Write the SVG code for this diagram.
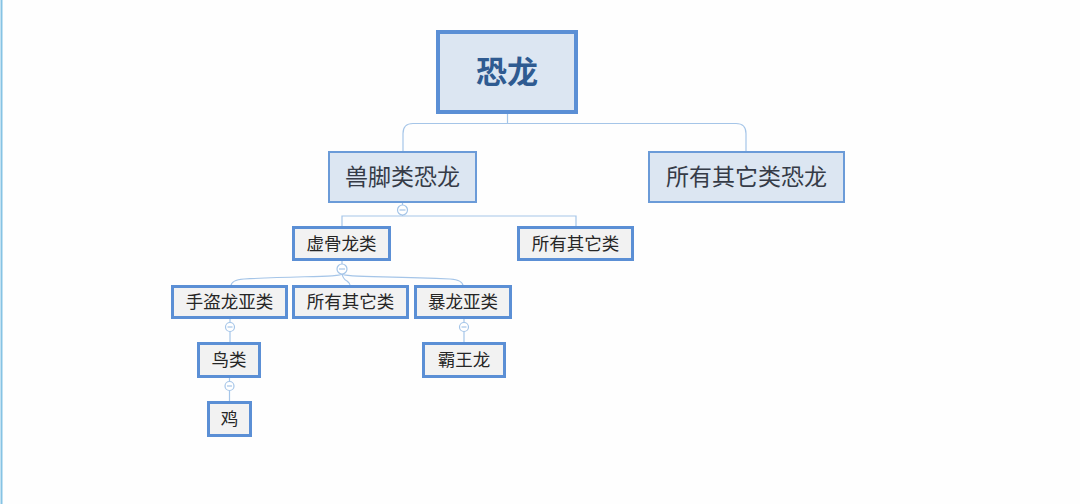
<svg xmlns="http://www.w3.org/2000/svg" width="1080" height="504" viewBox="0 0 1080 504">
<style>
.bg{fill:#fefefe}
.root{fill:#dce6f2;stroke:#5b8fd5;stroke-width:4}
.l1{fill:#dce6f2;stroke:#6b9bd8;stroke-width:2}
.nd{fill:#f2f2f2;stroke:#5b8fd5;stroke-width:3}
.t{font-family:"Noto Sans CJK SC","Liberation Sans",sans-serif;text-anchor:middle}
.tr{font-size:31px;font-weight:bold;fill:#2f5b91}
.t1{font-size:23px;fill:#353b47}
.t2{font-size:17.5px;fill:#262626}
.c{fill:none;stroke:#a5c5e8;stroke-width:1.2}
.cc{fill:#ffffff;stroke:#a5c5e8;stroke-width:1.2}
.mn{stroke:#a5c5e8;stroke-width:1.2}
</style>
<rect class="bg" x="0" y="0" width="1080" height="504"/>
<line x1="1.5" y1="0" x2="1.5" y2="504" stroke="#86c3e4" stroke-width="2"/>
<g id="connectors">
<path class="c" d="M507.5,114 V123.5"/>
<path class="c" d="M403,151 V133.5 Q403,123.5 413,123.5 H736 Q746,123.5 746,133.5 V151"/>
<path class="c" d="M402.5,203 V205 M402.5,215 V216"/>
<path class="c" d="M342,226 V216 H576 V226"/>
<path class="c" d="M342,261 V264"/>
<path class="c" d="M342,274 C342,277 300,276 244,279 Q231,280 231,286"/>
<path class="c" d="M342,274 C342,277 384,276 450,279 Q463,280 463,286"/>
<path class="c" d="M342,274 Q343,279 347,281 Q350,283 350,286"/>
<path class="c" d="M230,319 V322.5 M230,331.5 V342"/>
<path class="c" d="M464,319 V322.5 M464,331.5 V342"/>
<path class="c" d="M229.5,378 V381.5 M229.5,390.5 V401"/>
<g id="collapse">
<circle class="cc" cx="402.5" cy="210" r="5"/><line class="mn" x1="399.5" y1="210" x2="405.5" y2="210"/>
<circle class="cc" cx="342" cy="269" r="5"/><line class="mn" x1="339" y1="269" x2="345" y2="269"/>
<circle class="cc" cx="230" cy="327" r="4.5"/><line class="mn" x1="227.5" y1="327" x2="232.5" y2="327"/>
<circle class="cc" cx="464" cy="327" r="4.5"/><line class="mn" x1="461.5" y1="327" x2="466.5" y2="327"/>
<circle class="cc" cx="229.5" cy="386" r="4.5"/><line class="mn" x1="227" y1="386" x2="232" y2="386"/>
</g>
</g>
<g id="n-root"><rect class="root" x="438" y="32" width="138" height="80"/><text class="t tr" x="507" y="83">恐龙</text></g>
<g id="n-theropod"><rect class="l1" x="329" y="152" width="147" height="50"/><text class="t t1" x="402.5" y="185">兽脚类恐龙</text></g>
<g id="n-other1"><rect class="l1" x="649" y="152" width="195" height="50"/><text class="t t1" x="746.5" y="185">所有其它类恐龙</text></g>
<g id="n-coelurosaur"><rect class="nd" x="293.5" y="227.5" width="96" height="32"/><text class="t t2" x="341.5" y="249.5">虚骨龙类</text></g>
<g id="n-other2"><rect class="nd" x="518.5" y="227.5" width="114" height="32"/><text class="t t2" x="575.5" y="249.5">所有其它类</text></g>
<g id="n-maniraptora"><rect class="nd" x="172.5" y="286.5" width="114" height="31"/><text class="t t2" x="229.5" y="308">手盗龙亚类</text></g>
<g id="n-other3"><rect class="nd" x="293.5" y="286.5" width="114" height="31"/><text class="t t2" x="350.5" y="308">所有其它类</text></g>
<g id="n-tyranno"><rect class="nd" x="415.5" y="286.5" width="95" height="31"/><text class="t t2" x="463" y="308">暴龙亚类</text></g>
<g id="n-birds"><rect class="nd" x="198.5" y="343.5" width="61" height="33"/><text class="t t2" x="229" y="366">鸟类</text></g>
<g id="n-trex"><rect class="nd" x="423.5" y="343.5" width="81" height="33"/><text class="t t2" x="464" y="366">霸王龙</text></g>
<g id="n-chicken"><rect class="nd" x="208.5" y="402.5" width="42" height="33"/><text class="t t2" x="229.5" y="425">鸡</text></g>
</svg>
